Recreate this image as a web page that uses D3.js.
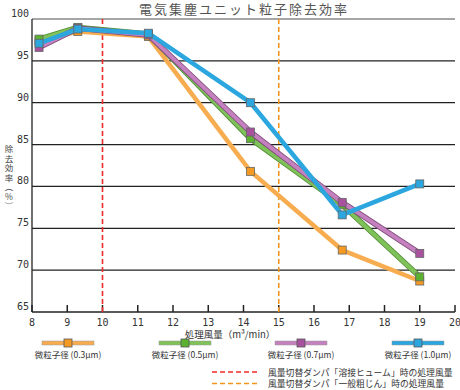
<!DOCTYPE html>
<html><head><meta charset="utf-8">
<script src="https://cdn.jsdelivr.net/npm/d3@7"></script>
<style>
body{margin:0;background:#fff;}
svg{display:block;}
</style></head><body>
<svg id="c" width="460" height="390"></svg>
<script>
const title = "電気集塵ユニット粒子除去効率";
const xLabel = "処理風量（m³/min）";
const yLabelChars = ["除","去","効","率","︵","%","︶"];
const flowRates = [8.2, 9.3, 11.3, 14.2, 16.8, 19];
const seriesNames = ["微粒子径 (0.3μm)","微粒子径 (0.5μm)","微粒子径 (0.7μm)","微粒子径 (1.0μm)"];
const eff03 = [97.4, 98.5, 97.9, 81.8, 72.4, 68.7];
const eff05 = [97.6, 99.0, 98.2, 85.7, 77.8, 69.2];
const eff07 = [96.6, 98.9, 98.1, 86.5, 78.1, 72.0];
const eff10 = [97.1, 98.8, 98.3, 90.0, 76.6, 80.3];
const xTicks = [8,9,10,11,12,13,14,15,16,17,18,19,20];
const yTicks = [65,70,75,80,85,90,95,100];
const refLines = [10, 15];
const refNames = ["風量切替ダンパ「溶接ヒューム」時の処理風量","風量切替ダンパ「一般粗じん」時の処理風量"];

const lineColors = ["#f7ad4f","#80c25a","#c581bf","#2ba6df"];
const markColors = ["#f49a22","#5cb130","#a8529f","#2ba6df"];
const edgeColors = [null,"#4f8a33","#7f4a7a",null];
const refColors = ["#ee2a2a","#f3961e"];

const svg = d3.select("#c");
const x = d3.scaleLinear().domain([8,20]).range([32,455]);
const y = d3.scaleLinear().domain([65,100]).range([312,19]);
const mono = "'DejaVu Sans Mono', monospace";
const jp = "'Noto Sans CJK JP', sans-serif";

svg.append("text").attr("x",244).attr("y",14).attr("text-anchor","middle")
  .attr("font-family",jp).attr("font-size",13).attr("fill","#555").attr("letter-spacing",2).text(title);

// gridlines
svg.append("g").selectAll("line").data(yTicks.filter(d=>d>65)).join("line")
  .attr("x1",x(8)).attr("x2",x(20)).attr("y1",d=>y(d)).attr("y2",d=>y(d))
  .attr("stroke",d=>d===100?"#888":"#222").attr("stroke-width",d=>d===100?1.5:1.3);

// y labels
svg.append("g").selectAll("text").data(yTicks).join("text")
  .attr("x",29).attr("y",d=>y(d)-2).attr("text-anchor","end")
  .attr("font-family",mono).attr("font-size",10).attr("fill","#333").text(d=>d);

// axes lines
svg.append("line").attr("x1",x(8)).attr("x2",x(8)).attr("y1",y(100)).attr("y2",y(65)).attr("stroke","#222").attr("stroke-width",1.3);
svg.append("line").attr("x1",x(8)).attr("x2",x(20)).attr("y1",y(65)).attr("y2",y(65)).attr("stroke","#222").attr("stroke-width",1.3);
svg.append("g").selectAll("line").data(xTicks).join("line")
  .attr("x1",d=>x(d)).attr("x2",d=>x(d)).attr("y1",y(65)).attr("y2",y(65)-7)
  .attr("stroke","#222").attr("stroke-width",1.5);
svg.append("g").selectAll("text").data(xTicks).join("text")
  .attr("x",d=>x(d)).attr("y",326).attr("text-anchor","middle")
  .attr("font-family",mono).attr("font-size",10).attr("fill","#333").text(d=>d);

svg.append("text").attr("x",230).attr("y",338).attr("text-anchor","middle")
  .attr("font-family",jp).attr("font-size",9.5).attr("fill","#333").text(xLabel);

// vertical y-axis label: a single text element, one glyph per line
const yl = svg.append("text").attr("text-anchor","middle").attr("dominant-baseline","central")
  .attr("font-family",jp).attr("font-size",8.5).attr("fill","#444");
yl.selectAll("tspan").data(yLabelChars).join("tspan")
  .attr("x",9).attr("y",(d,i)=>148+i*9.5).text(d=>d);

// ref lines
svg.append("g").selectAll("line").data(refLines).join("line")
  .attr("x1",d=>x(d)).attr("x2",d=>x(d)).attr("y1",y(100)).attr("y2",y(65))
  .attr("stroke",(d,i)=>refColors[i]).attr("stroke-width",1.6).attr("stroke-dasharray","5,3");

const allSeries = [eff03, eff05, eff07, eff10];
const line = d3.line().x((d,i)=>x(flowRates[i])).y(d=>y(d));
allSeries.forEach((s,k)=>{
  const g = svg.append("g");
  if(edgeColors[k]) g.append("path").attr("d",line(s)).attr("fill","none").attr("stroke",edgeColors[k]).attr("stroke-width",5.5).attr("stroke-linejoin","round");
  g.append("path").attr("d",line(s)).attr("fill","none").attr("stroke",lineColors[k]).attr("stroke-width",edgeColors[k]?4:4.5).attr("stroke-linejoin","round");
  g.selectAll("rect").data(s).join("rect")
    .attr("x",(d,i)=>x(flowRates[i])-4).attr("y",d=>y(d)-4).attr("width",8).attr("height",8)
    .attr("fill",markColors[k]).attr("stroke","#666").attr("stroke-width",0.8);
});

// legend
const legX = [68,185,301,418];
const lg = svg.append("g");
seriesNames.forEach((n,k)=>{
  const cx = legX[k];
  lg.append("rect").attr("x",cx-26).attr("y",341).attr("width",52).attr("height",4)
    .attr("fill",lineColors[k]).attr("stroke","#999").attr("stroke-width",0.5);
  lg.append("rect").attr("x",cx-4).attr("y",339).attr("width",8).attr("height",8)
    .attr("fill",markColors[k]).attr("stroke","#555").attr("stroke-width",0.8);
  lg.append("text").attr("x",cx).attr("y",358).attr("text-anchor","middle")
    .attr("font-family",jp).attr("font-size",8.5).attr("fill","#333").text(n);
});
refNames.forEach((n,k)=>{
  const yy = 372 + k*11.5;
  lg.append("line").attr("x1",212).attr("x2",258).attr("y1",yy).attr("y2",yy)
    .attr("stroke",refColors[k]).attr("stroke-width",1.5).attr("stroke-dasharray","5,3");
  lg.append("text").attr("x",268).attr("y",yy).attr("dominant-baseline","central")
    .attr("font-family",jp).attr("font-size",8.8).attr("fill","#333").text(n);
});
</script>
</body></html>
